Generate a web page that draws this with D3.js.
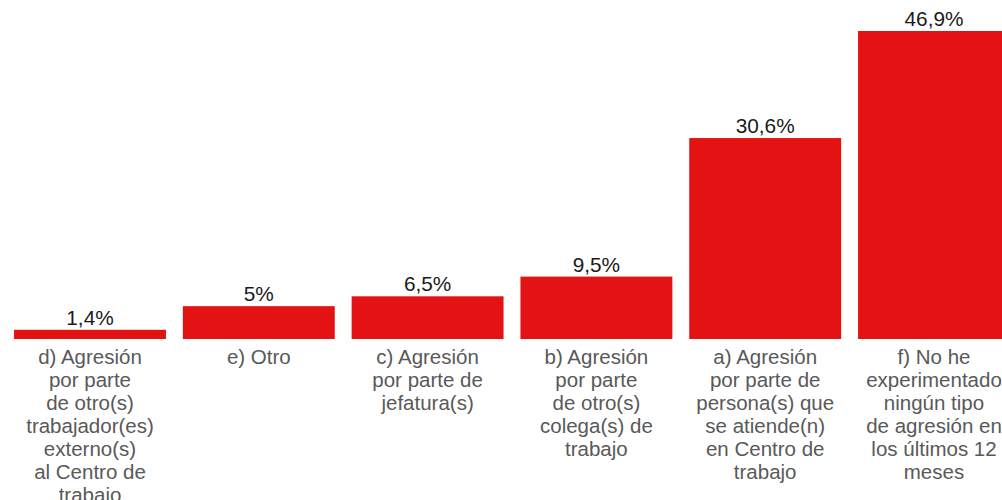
<!DOCTYPE html>
<html lang="es">
<head>
<meta charset="utf-8">
<title>Tipos de agresión</title>
<script src="https://cdn.jsdelivr.net/npm/d3@7"></script>
<style>
  html, body { margin: 0; padding: 0; background: #fff; }
  svg { display: block; font-family: "Liberation Sans", Arial, sans-serif; }
  .value { fill: #1a1a1a; font-size: 20.8px; }
  .cat { fill: #595959; font-size: 20.5px; }
</style>
</head>
<body>
<div id="chart"></div>
<script>
// categories (one line per entry, as wrapped in the original)
var categories = [
  ["d) Agresión", "por parte", "de otro(s)", "trabajador(es)", "externo(s)", "al Centro de", "trabajo"],
  ["e) Otro"],
  ["c) Agresión", "por parte de", "jefatura(s)"],
  ["b) Agresión", "por parte", "de otro(s)", "colega(s) de", "trabajo"],
  ["a) Agresión", "por parte de", "persona(s) que", "se atiende(n)", "en Centro de", "trabajo"],
  ["f) No he", "experimentado", "ningún tipo", "de agresión en", "los últimos 12", "meses"]
];
var values = [1.4, 5, 6.5, 9.5, 30.6, 46.9];
var valueLabels = ["1,4%", "5%", "6,5%", "9,5%", "30,6%", "46,9%"];

var width = 1002, height = 500;
var baseline = 339;

var svg = d3.select("#chart")
  .append("svg")
  .attr("width", width)
  .attr("height", height);

var idx = d3.range(values.length);

var x = d3.scaleBand()
  .domain(idx)
  .range([5.6, 1018.4])
  .paddingInner(0.1)
  .paddingOuter(0.05);

var y = d3.scaleLinear()
  .domain([0, 46.9])
  .range([baseline, 31]);

// bars
svg.append("g")
  .selectAll("rect")
  .data(idx)
  .join("rect")
  .attr("x", function (i) { return x(i); })
  .attr("y", function (i) { return y(values[i]); })
  .attr("width", x.bandwidth())
  .attr("height", function (i) { return baseline - y(values[i]); })
  .attr("fill", "#e31213");

// value labels
svg.append("g")
  .selectAll("text")
  .data(idx)
  .join("text")
  .attr("class", "value")
  .attr("text-anchor", "middle")
  .attr("x", function (i) { return x(i) + x.bandwidth() / 2; })
  .attr("y", function (i) { return y(values[i]) - 5; })
  .text(function (i) { return valueLabels[i]; });

// category labels
var cats = svg.append("g")
  .selectAll("text")
  .data(idx)
  .join("text")
  .attr("class", "cat")
  .attr("text-anchor", "middle")
  .attr("x", function (i) { return x(i) + x.bandwidth() / 2; })
  .attr("y", baseline + 25);

cats.each(function (i) {
  var t = d3.select(this);
  var cx = x(i) + x.bandwidth() / 2;
  categories[i].forEach(function (line, k) {
    t.append("tspan")
      .attr("x", cx)
      .attr("dy", k === 0 ? 0 : 23)
      .text(line);
  });
});
</script>
</body>
</html>
